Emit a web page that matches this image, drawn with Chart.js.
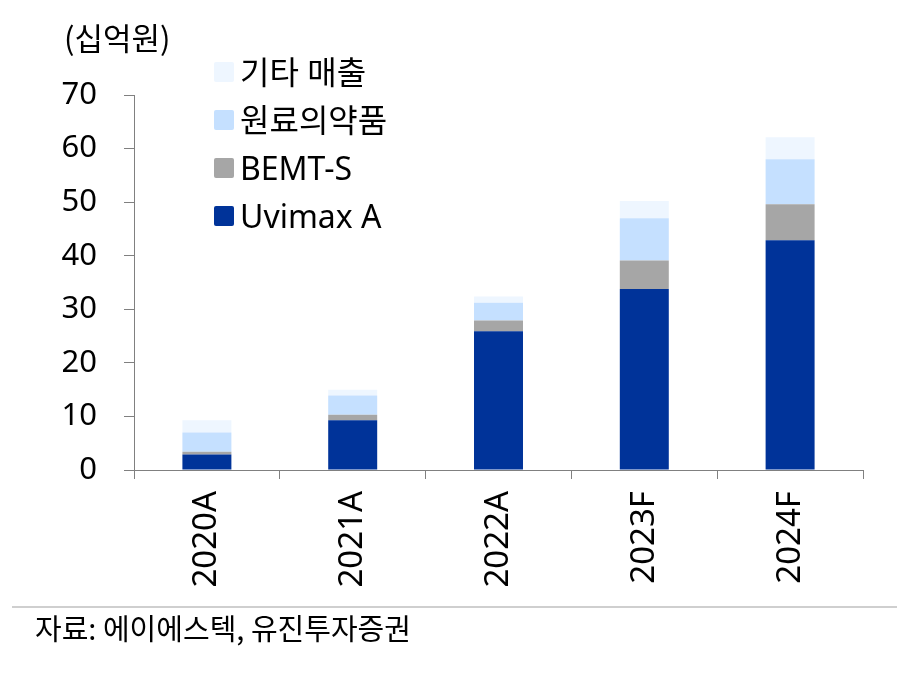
<!DOCTYPE html>
<html>
<head>
<meta charset="utf-8">
<script src="https://cdn.jsdelivr.net/npm/chart.js@4/dist/chart.umd.min.js"></script>
<style>
  html, body { margin:0; padding:0; background:#fff; }
  #wrap { position:relative; width:911px; height:686px; overflow:hidden; font-family:"Noto Sans","Noto Sans CJK KR",sans-serif; }
  #c { position:absolute; left:0; top:0; }
  #unit { position:absolute; left:64px; top:21px; font-size:31px; color:#000; font-family:"Noto Sans CJK KR","Noto Sans",sans-serif; line-height:1; }
  #legend { position:absolute; left:214px; top:56px; }
  .li { position:relative; height:48px; }
  .sw { position:absolute; left:0; top:6px; width:20px; height:20px; border-radius:2px; }
  .lt { position:absolute; left:26px; top:-4px; font-size:32px; line-height:40px; white-space:nowrap; color:#000; font-family:"Noto Sans","Noto Sans CJK KR",sans-serif; }
  #rule { position:absolute; left:12px; top:606px; width:885px; height:2px; background:#cfcfcf; }
  #src { position:absolute; left:35px; top:609px; font-size:29px; line-height:36px; color:#000; font-family:"Noto Sans CJK KR","Noto Sans",sans-serif; white-space:nowrap; }
</style>
</head>
<body>
<div id="wrap">
  <canvas id="c" width="911" height="686"></canvas>
  <div id="unit">(십억원)</div>
  <div id="legend"></div>
  <div id="rule"></div>
  <div id="src">자료: 에이에스텍, 유진투자증권</div>
</div>
<script>
const categories = ["2020A", "2021A", "2022A", "2023F", "2024F"];
const uvimaxA   = [2.9, 9.3, 25.9, 33.8, 42.9];
const bemtS     = [0.5, 1.0, 2.0, 5.3, 6.7];
const apiDrugs  = [3.6, 3.6, 3.3, 7.9, 8.4];
const otherSales= [2.3, 1.1, 1.2, 3.2, 4.1];
const seriesNames = ["Uvimax A", "BEMT-S", "원료의약품", "기타 매출"];
const yTicks = [0, 10, 20, 30, 40, 50, 60, 70];

const colors = ["#003399", "#A6A6A6", "#C5E0FF", "#EEF6FF"];
const values = [uvimaxA, bemtS, apiDrugs, otherSales];

const datasets = seriesNames.map((n, i) => ({
  label: n,
  data: values[i],
  backgroundColor: colors[i],
  borderWidth: 0,
  categoryPercentage: 1.0,
  barPercentage: 0.336
}));

// legend (reverse order, top = 기타 매출)
const lg = document.getElementById('legend');
for (let i = seriesNames.length - 1; i >= 0; i--) {
  const d = document.createElement('div'); d.className = 'li';
  const s = document.createElement('div'); s.className = 'sw'; s.style.background = colors[i];
  const t = document.createElement('div'); t.className = 'lt'; t.textContent = seriesNames[i];
  d.appendChild(s); d.appendChild(t); lg.appendChild(d);
}

const axisColor = '#808080';
new Chart(document.getElementById('c'), {
  type: 'bar',
  data: { labels: categories, datasets },
  options: {
    responsive: false,
    animation: false,
    devicePixelRatio: 1,
    layout: { padding: { top: 95, right: 48, left: 0, bottom: 0 } },
    plugins: { legend: { display: false }, tooltip: { enabled: false } },
    scales: {
      x: {
        stacked: true,
        afterFit: (s) => { s.height = 216; },
        grid: { display: true, drawOnChartArea: false, drawTicks: true, tickLength: 9, color: axisColor, offset: true },
        border: { display: true, color: axisColor, width: 1 },
        ticks: { minRotation: 90, maxRotation: 90, padding: 12, color: '#000',
                 font: { family: '"Noto Sans","Noto Sans CJK KR",sans-serif', size: 33 } }
      },
      y: {
        stacked: true,
        min: 0, max: 70,
        afterFit: (s) => { s.width = 134; },
        afterBuildTicks: (s) => { s.ticks = yTicks.map(v => ({ value: v })); },
        grid: { display: true, drawOnChartArea: false, drawTicks: true, tickLength: 10, color: axisColor },
        border: { display: true, color: axisColor, width: 1 },
        ticks: { padding: 27, color: '#000',
                 font: { family: '"Noto Sans","Noto Sans CJK KR",sans-serif', size: 31 } }
      }
    }
  }
});
</script>
</body>
</html>
